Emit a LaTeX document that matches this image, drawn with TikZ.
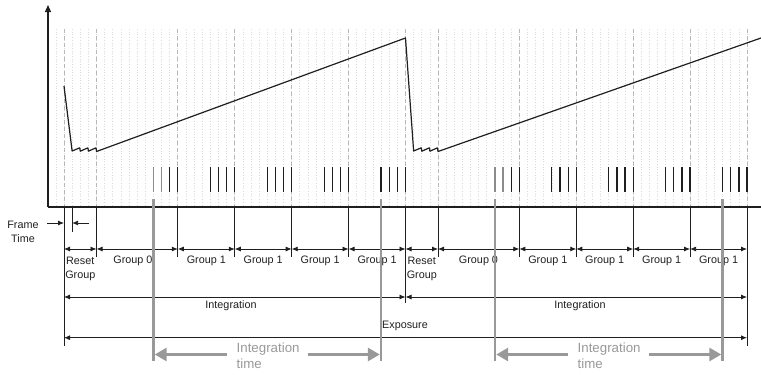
\documentclass[tikz,border=0pt]{standalone}
\usepackage{fontspec}
\setmainfont{Liberation Sans}
\usetikzlibrary{arrows.meta}
\definecolor{ink}{gray}{0.12}
\definecolor{grayline}{gray}{0.6}
\definecolor{gridc}{gray}{0.85}
\definecolor{dashc}{gray}{0.72}
\tikzset{
  gridline/.style={gridc, line width=0.7pt, dotted},
  groupline/.style={dashc, line width=0.7pt, dash pattern=on 4pt off 3pt},
  signal/.style={ink, line width=1.2pt, line join=round},
  tick/.style={ink, line width=1.25pt},
  faint tick/.style={black!45, line width=1.25pt},
  bound/.style={ink, line width=1pt},
  dimarrow/.style={ink, line width=0.8pt, {Latex[length=6pt,width=5pt]}-{Latex[length=6pt,width=5pt]}},
  onearrow/.style={ink, line width=0.8pt, -{Latex[length=6pt,width=5pt]}},
  label/.style={ink, font=\fontsize{10.8}{14}\selectfont, align=center, inner sep=0pt},
  glabel/.style={grayline, font=\fontsize{13.3}{16}\selectfont, align=left, inner sep=0pt},
  grayv/.style={grayline, line width=2.6pt},
  grayarrow/.style={grayline, line width=2.8pt, -{Triangle[length=12pt,width=13pt]}}
}
\begin{document}
\begin{tikzpicture}[x=1pt,y=-1pt]
\useasboundingbox (0,0) rectangle (761,375);
\def\f{8.131}
% frame grid
\foreach \k in {-1,...,84} \draw[gridline] ({64+\k*\f},29) -- ({64+\k*\f},207);
\foreach \k in {0,4,14,21,28,35,42,46,56,63,70,77,84} \draw[groupline] ({64+\k*\f},29) -- ({64+\k*\f},207);
% axes
\coordinate (O) at (48,207);
\coordinate (ytop) at (48,5);
\coordinate (xend) at (761,207);
\draw[ink, line width=1.3pt, -{Triangle[length=7pt,width=6pt]}] (O) -- (ytop);
\draw[ink, line width=1.3pt] (O) -- (xend);
% signal
\draw[signal] (64,86) -- (72.13,151)
  -- (79.8,147.8) -- (80.26,151.2) -- (87.9,147.8) -- (88.39,151.2) -- (96.0,147.8) -- (96.52,151.5)
  -- (405.5,38) -- (413.63,151)
  -- (421.3,147.8) -- (421.76,151.2) -- (429.4,147.8) -- (429.89,151.2) -- (437.5,147.8) -- (438.03,151.5)
  -- (761,38);
% reads
\foreach \e in {14,21,28,35,42,56,63,70,77,84}{
  \foreach \j in {0,1,2,3}{
    \pgfmathsetmacro\xx{64+(\e-\j)*\f}
    \draw[tick] (\xx,167) -- (\xx,192);
  }
}
\foreach \k in {11,12,53,54} \draw[faint tick] ({64+\k*\f},167) -- ({64+\k*\f},192);
% boundary lines below axis
\coordinate (b0) at (64,207);
\draw[bound] (b0) -- (64,345.5);
\draw[bound] ({64+\f},207) -- ({64+\f},232);
\foreach \k in {4,14,21,28,35,46,56,63,70,77} \draw[bound] ({64+\k*\f},207) -- ({64+\k*\f},257);
\draw[bound] ({64+42*\f},207) -- ({64+42*\f},303);
\draw[bound] ({64+84*\f},207) -- ({64+84*\f},345.5);
% frame time
\coordinate (ftl) at (47,223);
\coordinate (ftr) at (89,223);
\draw[onearrow] (ftl) -- (64,223);
\draw[onearrow] (ftr) -- ({64+\f},223);
\node[label] (ft) at (23,232) {Frame\\Time};
% group arrows
\foreach \a/\b in {0/4,4/14,14/21,21/28,28/35,35/42,42/46,46/56,56/63,63/70,70/77,77/84}
  \draw[dimarrow] ({64+\a*\f},249) -- ({64+\b*\f},249);
\node[label] (rg1) at (80.3,268.5) {Reset\\Group};
\node[label] (rg2) at (421.8,268.5) {Reset\\Group};
\node[label] (g0a) at (133,261) {Group 0};
\node[label] (g0b) at (478.5,261) {Group 0};
\foreach \a/\b in {14/21,21/28,28/35,35/42,56/63,63/70,70/77,77/84}
  \node[label] at ({64+(\a+\b)/2*\f},261) {Group 1};
% integration
\draw[dimarrow] (64,297) -- ({64+42*\f},297);
\draw[dimarrow] ({64+42*\f},297) -- ({64+84*\f},297);
\node[label] (int1) at (231,306) {Integration};
\node[label] (int2) at (580,306) {Integration};
% exposure
\draw[dimarrow] (64,337.7) -- ({64+84*\f},337.7);
\node[label] (exp) at (405,326) {Exposure};
% integration time (gray)
\foreach \k in {11,39,53,81} \draw[grayv] ({64+\k*\f},199) -- ({64+\k*\f},361);
\node[glabel, anchor=north west] (it1) at (236.5,343) {Integration\\time};
\node[glabel, anchor=north west] (it2) at (577.5,343) {Integration\\time};
\draw[grayarrow] (227,354.5) -- ({64+11*\f+1.3},354.5);
\draw[grayarrow] (308,354.5) -- ({64+39*\f-1.3},354.5);
\draw[grayarrow] (567.5,354.5) -- ({64+53*\f+1.3},354.5);
\draw[grayarrow] (649,354.5) -- ({64+81*\f-1.3},354.5);
\end{tikzpicture}
\end{document}
